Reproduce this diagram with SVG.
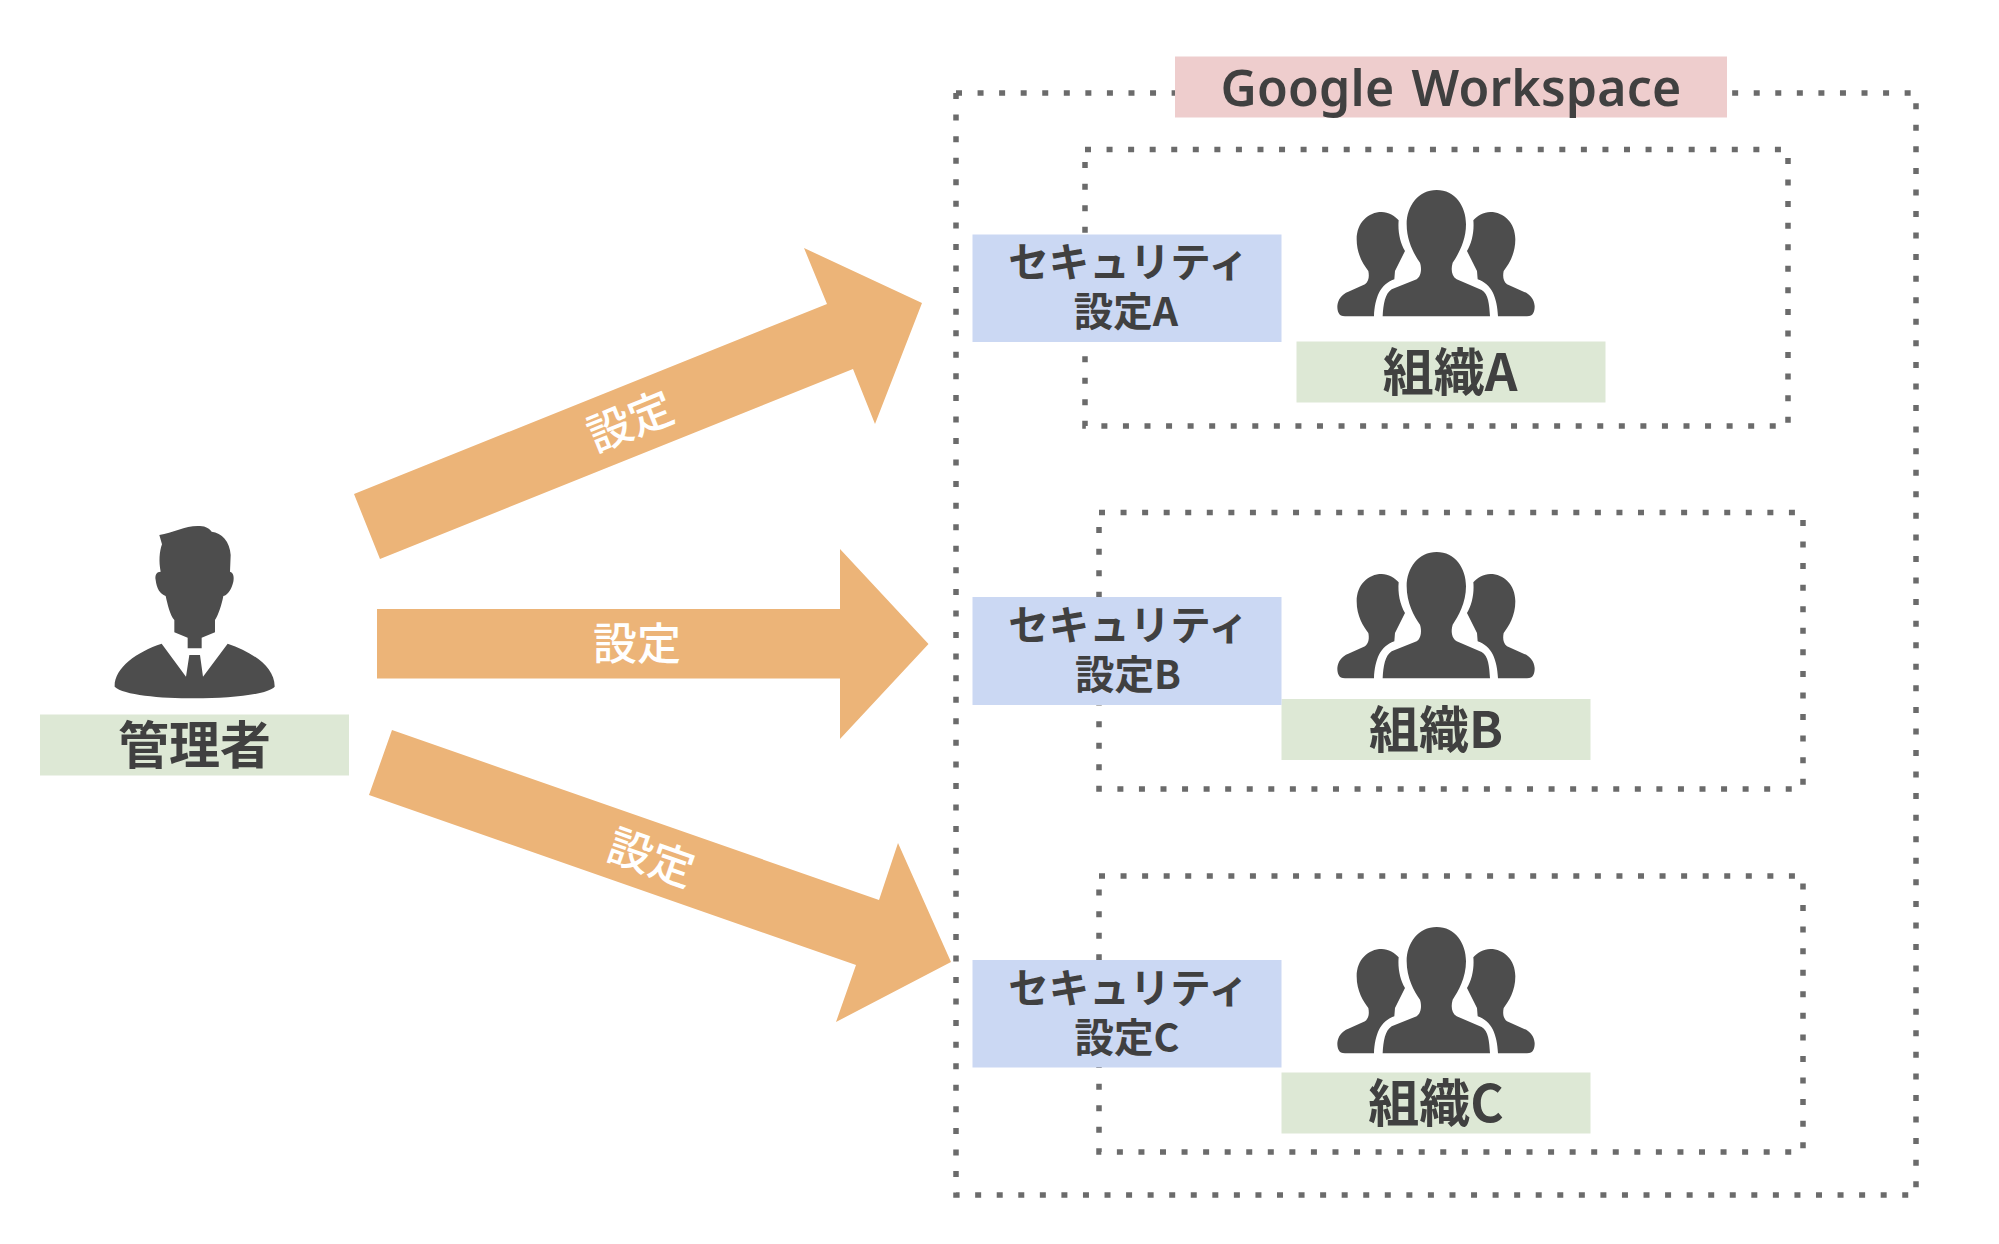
<svg xmlns="http://www.w3.org/2000/svg" width="1999" height="1244" viewBox="0 0 1999 1244">
<style>
text{font-family:"Noto Sans CJK JP","Noto Sans",sans-serif;text-anchor:middle;fill:#404040}
.lg{font-size:51px;font-weight:700}
.md{font-size:40.5px;font-weight:700}
.sm{font-size:39.5px;font-weight:700}
.ar{font-size:44px;font-weight:500;fill:#fff}
.dot{fill:none;stroke:#6b6b6b;stroke-width:5.5;stroke-dasharray:6 15.56}
.green{fill:#dde8d5}.blue{fill:#cbd8f3}.pink{fill:#eecdcd}.arrow{fill:#ecb478}.ic{fill:#4d4d4d}
</style>
<defs>
<g id="people" class="ic">
<path id="pc" d="M410 57C465 57 498 105 498 160C498 210 475 250 458 275C452 295 455 315 470 325L545 357C565 368 568 400 570 436L248 436C250 400 255 368 275 355L350 325C365 315 365 290 360 275C342 250 320 210 320 160C320 105 355 57 410 57Z"/>
<path id="pl" d="M245 123C265 123 285 135 296 148C293 180 300 215 315 240L285 300L283 325C240 340 225 380 222 436L135 436C115 436 112 420 112 405C114 385 125 370 145 362L195 340C207 330 208 315 205 300C190 280 170 250 170 205C170 155 205 123 245 123Z"/>
<use href="#pl" transform="translate(816 0) scale(-1 1)"/>
</g>
</defs>
<rect width="1999" height="1244" fill="#fff"/>
<g id="connectors">
<polygon class="arrow" points="354,494 380,559 853,369 875,424 922,303 804,248 827,304"/>
<polygon class="arrow" points="377,609 840,609 840,549 928.5,644 840,739 840,678.5 377,678.5"/>
<polygon class="arrow" points="392,730 369,795 856,965 836,1022 951,962 898,843 879,900"/>
<text class="ar" transform="translate(636.3 436) rotate(-22)">設定</text>
<text class="ar" x="637" y="659.5">設定</text>
<text class="ar" transform="translate(646 872.8) rotate(19.3)">設定</text>
</g>
<g id="workspace-frame"><path class="dot" d="M956 93H1916V1195H956Z"/></g>
<g id="org-a">
<path class="dot" d="M1085 149.5H1788V426H1085Z"/>
<use href="#people" transform="translate(1300 171) scale(.33333)"/>
<rect class="green" x="1296.5" y="341.5" width="309" height="61"/>
<text class="lg" x="1450" y="391">組織A</text>
</g>
<g id="org-b">
<path class="dot" d="M1099 512.5H1803V789H1099Z"/>
<use href="#people" transform="translate(1300 533) scale(.33333)"/>
<rect class="green" x="1281.5" y="699" width="309" height="61"/>
<text x="1436" y="748" style="font-size:50px;font-weight:700">組織B</text>
</g>
<g id="org-c">
<path class="dot" d="M1099 876H1803V1152H1099Z"/>
<use href="#people" transform="translate(1300 908) scale(.33333)"/>
<rect class="green" x="1281.5" y="1072.5" width="309" height="61"/>
<text class="lg" x="1436" y="1122">組織C</text>
</g>
<g id="security-a">
<rect class="blue" x="972.5" y="234.5" width="309" height="107.5"/>
<text class="md" x="1128.5" y="277">セキュリティ</text>
<text class="sm" x="1126" y="326">設定A</text>
</g>
<g id="security-b">
<rect class="blue" x="972.5" y="597" width="309" height="108"/>
<text class="md" x="1128.5" y="640">セキュリティ</text>
<text class="sm" x="1128" y="689">設定B</text>
</g>
<g id="security-c">
<rect class="blue" x="972.5" y="960" width="309" height="107.5"/>
<text class="md" x="1128.5" y="1003">セキュリティ</text>
<text class="sm" x="1127" y="1052">設定C</text>
</g>
<g id="google-workspace">
<rect class="pink" x="1175" y="56.5" width="552" height="61"/>
<text x="1451" y="106" style="font-family:'Noto Sans',sans-serif;font-size:50px;font-weight:600;letter-spacing:.2px;word-spacing:4px">Google Workspace</text>
</g>
<g id="admin">
<g class="ic" transform="translate(0 480) scale(.33333)">
<path d="M478 165C520 158 560 135 600 138C618 138 630 148 635 155C665 158 690 185 692 225L690 275C700 278 703 290 700 305C695 325 685 345 670 348C665 375 655 405 645 420L645 457L605 473L605 505L563 505L563 473L523 457L523 420C510 405 503 375 497 348C480 342 470 325 467 300C464 285 470 275 482 275C476 245 478 215 486 193Z"/>
<path d="M485 491L558 590L568 525L600 525L609 590L683 491C755 515 825 560 824 620C800 645 690 655 584 655C480 655 370 645 344 620C342 565 410 515 485 491Z"/>
</g>
<rect class="green" x="40" y="714.5" width="309" height="61"/>
<text class="lg" x="194.5" y="764">管理者</text>
</g>
</svg>
